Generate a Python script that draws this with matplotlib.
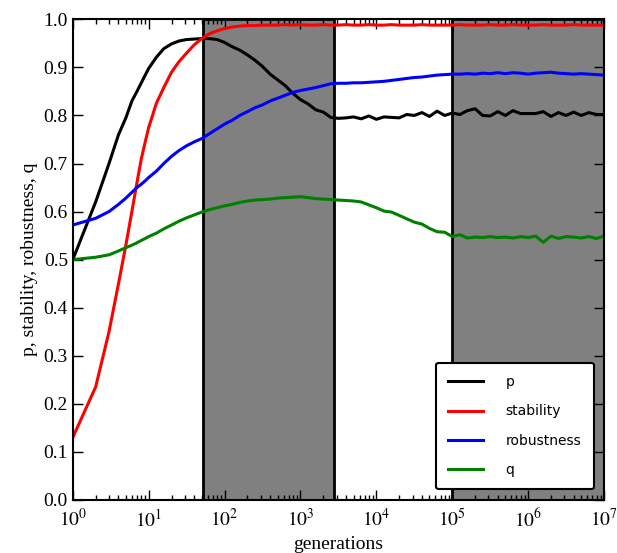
import matplotlib
matplotlib.use("Agg")
import matplotlib.pyplot as plt

plt.rcParams['font.family'] = 'serif'
plt.rcParams['font.serif'] = ['Liberation Serif', 'DejaVu Serif']
plt.rcParams['mathtext.fontset'] = 'stix'

# generations (x) and the four traces
gens = [1, 2, 3, 4, 5, 6, 7, 8, 9,
        1.0e1, 1.26e1, 1.58e1, 2.0e1, 2.51e1, 3.16e1, 3.98e1, 5.01e1, 6.31e1, 7.94e1,
        1.0e2, 1.26e2, 1.58e2, 2.0e2, 2.51e2, 3.16e2, 3.98e2, 5.01e2, 6.31e2, 7.94e2,
        1.0e3, 1.26e3, 1.58e3, 2.0e3, 2.51e3, 3.16e3, 3.98e3, 5.01e3, 6.31e3, 7.94e3,
        1.0e4, 1.26e4, 1.58e4, 2.0e4, 2.51e4, 3.16e4, 3.98e4, 5.01e4, 6.31e4, 7.94e4,
        1.0e5, 1.26e5, 1.58e5, 2.0e5, 2.51e5, 3.16e5, 3.98e5, 5.01e5, 6.31e5, 7.94e5,
        1.0e6, 1.26e6, 1.58e6, 2.0e6, 2.51e6, 3.16e6, 3.98e6, 5.01e6, 6.31e6, 7.94e6,
        1.0e7]

p = [0.50, 0.62, 0.70, 0.76, 0.795, 0.83, 0.85, 0.868, 0.884,
     0.898, 0.921, 0.939, 0.949, 0.955, 0.958, 0.959, 0.960, 0.960, 0.958,
     0.952, 0.943, 0.936, 0.926, 0.915, 0.902, 0.886, 0.874, 0.862, 0.846,
     0.833, 0.824, 0.812, 0.807, 0.796, 0.794, 0.795, 0.797, 0.793, 0.799,
     0.792, 0.797, 0.796, 0.795, 0.802, 0.800, 0.806, 0.798, 0.809, 0.800,
     0.805, 0.802, 0.810, 0.814, 0.800, 0.799, 0.808, 0.800, 0.810, 0.804,
     0.804, 0.804, 0.808, 0.798, 0.806, 0.800, 0.807, 0.800, 0.806, 0.802,
     0.802]

stability = [0.13, 0.235, 0.35, 0.45, 0.53, 0.60, 0.66, 0.71, 0.745,
             0.775, 0.825, 0.858, 0.89, 0.912, 0.93, 0.947, 0.960, 0.970, 0.976,
             0.981, 0.984, 0.986, 0.987, 0.987, 0.988, 0.988, 0.988, 0.989, 0.988,
             0.989, 0.988, 0.988, 0.989, 0.988, 0.988, 0.989, 0.988, 0.988, 0.989,
             0.988, 0.988, 0.989, 0.988, 0.988, 0.988, 0.989, 0.988, 0.988, 0.988,
             0.988, 0.989, 0.988, 0.988, 0.988, 0.989, 0.988, 0.988, 0.989, 0.988,
             0.988, 0.988, 0.989, 0.988, 0.988, 0.988, 0.989, 0.988, 0.988, 0.988,
             0.988]

robustness = [0.572, 0.586, 0.60, 0.615, 0.628, 0.64, 0.65, 0.657, 0.664,
              0.671, 0.684, 0.70, 0.715, 0.727, 0.737, 0.745, 0.752, 0.762, 0.772,
              0.782, 0.790, 0.800, 0.808, 0.816, 0.822, 0.830, 0.836, 0.842, 0.848,
              0.852, 0.855, 0.858, 0.862, 0.866, 0.867, 0.867, 0.868, 0.868, 0.869,
              0.870, 0.871, 0.873, 0.875, 0.877, 0.879, 0.880, 0.882, 0.884, 0.885,
              0.886, 0.886, 0.887, 0.886, 0.888, 0.887, 0.889, 0.887, 0.889, 0.888,
              0.886, 0.888, 0.889, 0.890, 0.888, 0.887, 0.886, 0.887, 0.886, 0.885,
              0.884]

q = [0.50, 0.505, 0.51, 0.518, 0.525, 0.53, 0.535, 0.54, 0.544,
     0.548, 0.555, 0.564, 0.572, 0.580, 0.587, 0.593, 0.599, 0.604, 0.608,
     0.612, 0.615, 0.619, 0.622, 0.624, 0.625, 0.626, 0.628, 0.629, 0.630,
     0.631, 0.629, 0.627, 0.626, 0.625, 0.624, 0.623, 0.622, 0.620, 0.614,
     0.608, 0.601, 0.599, 0.592, 0.585, 0.578, 0.574, 0.565, 0.558, 0.557,
     0.548, 0.552, 0.545, 0.547, 0.546, 0.548, 0.546, 0.547, 0.545, 0.548,
     0.546, 0.549, 0.536, 0.549, 0.544, 0.548, 0.547, 0.545, 0.548, 0.544,
     0.549]

shaded = [(52, 2800), (1.0e5, 1.0e7)]

fig = plt.figure(figsize=(6.17, 5.53), dpi=100)
ax = fig.add_axes([0.118, 0.096, 0.861, 0.869])

for lo, hi in shaded:
    ax.axvspan(lo, hi, facecolor='0.5', edgecolor='k', linewidth=2, zorder=0)

ax.plot(gens, p, color='k', lw=2.2, label='p')
ax.plot(gens, stability, color='r', lw=2.2, label='stability')
ax.plot(gens, robustness, color='b', lw=2.2, label='robustness')
ax.plot(gens, q, color='g', lw=2.2, label='q')

ax.set_xscale('log')
ax.set_xlim(1, 1e7)
ax.set_ylim(0, 1)
ax.set_yticks([i / 10 for i in range(11)])
ax.set_yticklabels(['%.1f' % (i / 10) for i in range(11)])
ax.set_xticks([10 ** i for i in range(8)])
ax.set_xticklabels([r'$10^{%d}$' % i for i in range(8)])

ax.tick_params(which='both', direction='in', top=True, right=True, labelsize=14)
ax.tick_params(which='major', length=7, width=1)
ax.tick_params(which='minor', length=3.5, width=1)
ax.tick_params(axis='x', pad=6)
for s in ax.spines.values():
    s.set_linewidth(1.5)

ax.set_xlabel('generations', fontsize=14)
ax.set_ylabel('p, stability, robustness, q', fontsize=14)

leg = ax.legend(loc='lower right', prop={'family': 'DejaVu Sans', 'size': 10},
                handlelength=2.5, handletextpad=1.6, labelspacing=1.1,
                borderaxespad=0.75, borderpad=0.9, fancybox=True, framealpha=1)
leg.get_frame().set_edgecolor('k')
leg.get_frame().set_linewidth(1.5)

fig.savefig('out.png', dpi=100)
